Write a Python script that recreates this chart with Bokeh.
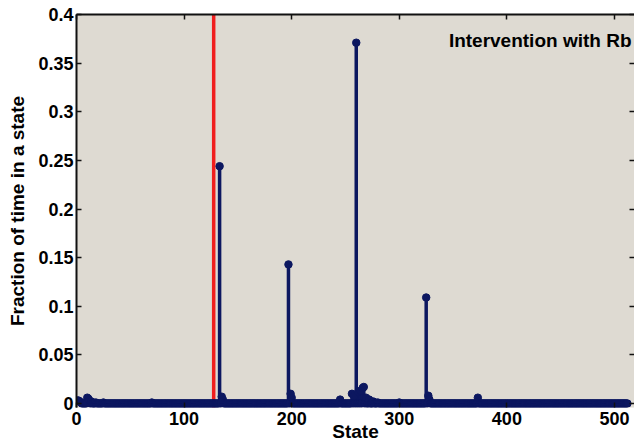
from bokeh.plotting import figure
from bokeh.models import Range1d, LinearAxis, Label, Span, FixedTicker, CustomLabelingPolicy
from bokeh.embed import file_html
from bokeh.resources import INLINE

# ---- data ----
n_states = 512
peak_states = [1, 2, 3, 4, 10, 11, 12, 14, 18, 25, 70,
               133, 135, 136, 197, 199, 200, 245,
               256, 258, 260, 262, 264, 266, 267, 269, 272, 276, 280, 300,
               325, 327, 328, 373]
peak_values = [0.003, 0.003, 0.002, 0.001, 0.006, 0.005, 0.003, 0.002, 0.001, 0.001, 0.001,
               0.244, 0.007, 0.004, 0.143, 0.010, 0.006, 0.004,
               0.010, 0.008, 0.371, 0.012, 0.013, 0.016, 0.017, 0.006, 0.004, 0.002, 0.001, 0.001,
               0.109, 0.008, 0.004, 0.006]
rb_state = 127.5
x_ticks = [0, 100, 200, 300, 400, 500]
y_ticks = [0, 0.05, 0.1, 0.15, 0.2, 0.25, 0.3, 0.35, 0.4]
y_tick_labels = ["0", "0.05", "0.1", "0.15", "0.2", "0.25", "0.3", "0.35", "0.4"]
x_label = "State"
y_label = "Fraction of time in a state"
panel_title = "Intervention with Rb"

states = list(range(1, n_states + 1))
values = [0.0] * n_states
for s, v in zip(peak_states, peak_values):
    values[s - 1] = v

NAVY = "#0c1760"
FONT = "Liberation Sans"

p = figure(width=634, height=446, output_backend="svg", toolbar_location=None,
           x_range=Range1d(0, 518.6), y_range=Range1d(-0.0041, 0.4),
           min_border_left=76, min_border_top=14, min_border_right=0, min_border_bottom=39,
           background_fill_color="#dedad2", border_fill_color="white",
           outline_line_color=None)
p.grid.visible = False

# red marker line (drawn beneath the stems)
p.add_layout(Span(location=rb_state, dimension="height", line_color="#f01e1e",
                  line_width=3.5, level="underlay"))

# stems
p.segment(x0=states, y0=[0] * n_states, x1=states, y1=values,
          line_color=NAVY, line_width=3.5)
p.scatter(x=states, y=values, size=7.5, color=NAVY)

hide_labels = CustomLabelingPolicy(code="""
try { for (const i of Array.from(indices)) { indices.unset(i) } } catch (e) {}
return indices
""")

def style_axis(ax, labels=True):
    ax.axis_line_color = "#111111"
    ax.axis_line_width = 2
    ax.major_tick_line_color = "#111111"
    ax.major_tick_line_width = 1.5
    ax.major_tick_in = 5
    ax.major_tick_out = 0
    ax.minor_tick_line_color = None
    if labels:
        ax.major_label_text_font = FONT
        ax.major_label_text_font_style = "bold"
        ax.major_label_text_font_size = "18px"
        ax.major_label_text_color = "black"
        ax.axis_label_text_font = FONT
        ax.axis_label_text_font_style = "bold"
        ax.axis_label_text_font_size = "19px"
        ax.axis_label_text_color = "black"
    else:
        ax.major_label_policy = hide_labels
        ax.major_label_text_font_size = "0px"
        ax.major_label_standoff = 0

xa = p.xaxis[0]
xa.ticker = FixedTicker(ticks=x_ticks)
style_axis(xa)
xa.axis_line_color = None
xa.major_label_standoff = 4
xa.axis_label = x_label
xa.axis_label_standoff = -7

ya = p.yaxis[0]
ya.ticker = FixedTicker(ticks=y_ticks)
style_axis(ya)
ya.major_label_overrides = {t: l for t, l in zip(y_ticks, y_tick_labels)}
ya.major_label_standoff = 3
ya.axis_label = y_label
ya.axis_label_standoff = 7

top = LinearAxis(ticker=FixedTicker(ticks=x_ticks))
style_axis(top, labels=False)
p.add_layout(top, "above")

right = LinearAxis(ticker=FixedTicker(ticks=y_ticks))
style_axis(right, labels=False)
right.axis_line_color = None
p.add_layout(right, "right")

p.add_layout(Label(x=515.8, y=0.3733, text=panel_title, text_align="right",
                   text_baseline="alphabetic", text_font=FONT, text_font_style="bold",
                   text_font_size="19px", text_color="black"))

open("out.html", "w").write(file_html(p, INLINE))
